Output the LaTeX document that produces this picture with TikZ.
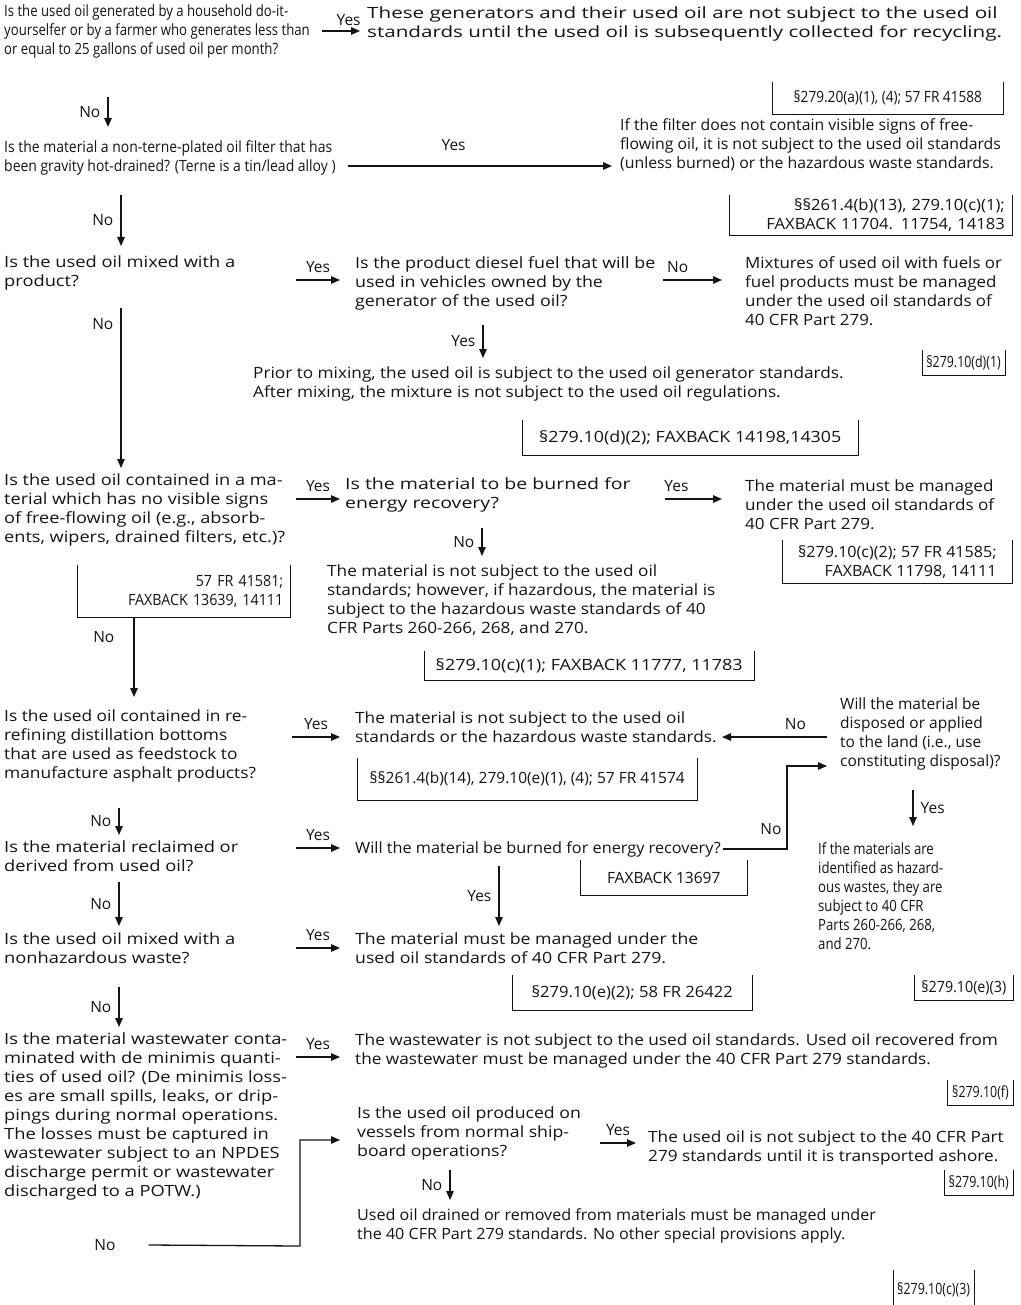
\documentclass[tikz,border=0pt]{standalone}
\usepackage{fontspec}
\setmainfont{Open Sans}
\usetikzlibrary{arrows.meta, positioning}
\definecolor{ink}{RGB}{20,20,20}
\newcommand{\fs}{\fontsize{15.5}{19}\selectfont}

\begin{document}
\begin{tikzpicture}[x=1pt, y=-1pt,
    sq/.style={font={\fs\addfontfeatures{FakeStretch=#1}}},
    txt/.style={anchor=north west, inner sep=0pt, align=left, sq=1.12, text=ink},
    cite/.style={inner xsep=7pt, inner ysep=0pt, font=\fs, text=ink},
    lbl/.style={inner sep=1pt, font=\fs, text=ink},
    arr/.style={draw=ink, line width=1.3pt, -{Triangle[length=9pt, width=7.5pt]}},
    brk/.style={draw=ink, line width=1pt}]
    \fill[white] (0,0) rectangle (1020,1305);
    \useasboundingbox (0,0) rectangle (1020,1305);

    % questions down the left side
    \node[txt, sq=0.85] (q1) at (4,5) {Is the used oil generated by a household do-it-\\yourselfer or by a farmer who generates less than\\or equal to 25 gallons of used oil per month?};
    \node[txt, sq=0.9] (q2) at (4,140) {Is the material a non-terne-plated oil filter that has\\been gravity hot-drained? (Terne is a tin/lead alloy )};
    \node[txt, sq=1.18] (q3) at (4,256) {Is the used oil mixed with a\\product?};
    \node[txt, sq=1.17] (q4) at (4,474) {Is the used oil contained in a ma-\\terial which has no visible signs\\of free-flowing oil (e.g., absorb-\\ents, wipers, drained filters, etc.)?};
    \node[txt, sq=1.12] (q5) at (4,710) {Is the used oil contained in re-\\refining distillation bottoms\\that are used as feedstock to\\manufacture asphalt products?};
    \node[txt, sq=1.18] (q6) at (4,841) {Is the material reclaimed or\\derived from used oil?};
    \node[txt, sq=1.18] (q7) at (4,933) {Is the used oil mixed with a\\nonhazardous waste?};
    \node[txt, sq=1.18] (q8) at (4,1033) {Is the material wastewater conta-\\minated with de minimis quanti-\\ties of used oil? (De minimis loss-\\es are small spills, leaks, or drip-\\pings during normal operations.\\The losses must be captured in\\wastewater subject to an NPDES\\discharge permit or wastewater\\discharged to a POTW.)};

    % second column
    \node[txt, sq=1.33] (a1) at (367,7) {These generators and their used oil are not subject to the used oil\\standards until the used oil is subsequently collected for recycling.};
    \node[txt, sq=1.02] (a2) at (620,118) {If the filter does not contain visible signs of free-\\flowing oil, it is not subject to the used oil standards\\(unless burned) or the hazardous waste standards.};
    \node[txt, sq=1.15] (q3b) at (355,256) {Is the product diesel fuel that will be\\used in vehicles owned by the\\generator of the used oil?};
    \node[txt, sq=1.09] (a3) at (745,256) {Mixtures of used oil with fuels or\\fuel products must be managed\\under the used oil standards of\\40 CFR Part 279.};
    \node[txt, sq=1.11] (a3b) at (253,367) {Prior to mixing, the used oil is subject to the used oil generator standards.\\After mixing, the mixture is not subject to the used oil regulations.};
    \node[txt, sq=1.26] (q4b) at (345,477) {Is the material to be burned for\\energy recovery?};
    \node[txt, sq=1.1] (a4) at (745,480) {The material must be managed\\under the used oil standards of\\40 CFR Part 279.};
    \node[txt, sq=1.11] (a4b) at (327,565) {The material is not subject to the used oil\\standards; however, if hazardous, the material is\\subject to the hazardous waste standards of 40\\CFR Parts 260-266, 268, and 270.};
    \node[txt, sq=1.11] (a5) at (355,712) {The material is not subject to the used oil\\standards or the hazardous waste standards.};
    \node[txt, sq=1.0] (q9) at (840,698) {Will the material be\\disposed or applied\\to the land (i.e., use\\constituting disposal)?};
    \node[txt, sq=0.85] (a9) at (818,842) {If the materials are\\identified as hazard-\\ous wastes, they are\\subject to 40 CFR\\Parts 260-266, 268,\\and 270.};
    \node[txt, sq=1.05] (q6b) at (355,841) {Will the material be burned for energy recovery?};
    \node[txt, sq=1.14] (a7) at (355,933) {The material must be managed under the\\used oil standards of 40 CFR Part 279.};
    \node[txt, sq=1.11] (a8) at (355,1033) {The wastewater is not subject to the used oil standards. Used oil recovered from\\the wastewater must be managed under the 40 CFR Part 279 standards.};
    \node[txt, sq=1.14] (q10) at (357,1107) {Is the used oil produced on\\vessels from normal ship-\\board operations?};
    \node[txt, sq=1.11] (a10) at (648,1131) {The used oil is not subject to the 40 CFR Part\\279 standards until it is transported ashore.};
    \node[txt, sq=1.04] (a10b) at (357,1208) {Used oil drained or removed from materials must be managed under\\the 40 CFR Part 279 standards. No other special provisions apply.};

    % citations
    \node[cite, sq=0.88, anchor=north east, minimum width=230, minimum height=32] (c1) at (1003,82) {§279.20(a)(1), (4); 57 FR 41588};
    \node[cite, sq=1.07, anchor=north east, text width=268, align=right, minimum height=40] (c2) at (1012,195) {§§261.4(b)(13), 279.10(c)(1);\\FAXBACK 11704. 11754, 14183};
    \node[cite, sq=0.8, inner xsep=4pt, anchor=north east, minimum width=78, minimum height=25] (c3) at (1005,350) {§279.10(d)(1)};
    \node[cite, sq=1.15, anchor=north west, minimum width=336, minimum height=35] (c3b) at (522,420) {§279.10(d)(2); FAXBACK 14198,14305};
    \node[cite, sq=1.04, anchor=north east, align=right, minimum width=229, minimum height=43] (c4) at (1012,540) {§279.10(c)(2); 57 FR 41585;\\FAXBACK 11798, 14111};
    \node[cite, sq=0.92, anchor=north west, text width=199, align=right, minimum height=52] (c4q) at (77,565) {57 FR 41581;\\FAXBACK 13639, 14111};
    \node[cite, sq=1.16, anchor=north west, minimum width=330, minimum height=29] (c4b) at (424,651) {§279.10(c)(1); FAXBACK 11777, 11783};
    \node[cite, sq=1.0, anchor=north west, minimum width=340, minimum height=42] (c5) at (357,758) {§§261.4(b)(14), 279.10(e)(1), (4); 57 FR 41574};
    \node[cite, anchor=north west, minimum width=167, minimum height=35] (c6) at (580,860) {FAXBACK 13697};
    \node[cite, sq=1.07, anchor=north west, minimum width=240, minimum height=35] (c7) at (512,975) {§279.10(e)(2); 58 FR 26422};
    \node[cite, sq=0.92, inner xsep=4pt, anchor=north east, minimum width=98, minimum height=25] (c9) at (1013,975) {§279.10(e)(3)};
    \node[cite, sq=0.8, inner xsep=4pt, anchor=north east, minimum width=56, minimum height=25] (c8) at (1013,1080) {§279.10(f)};
    \node[cite, sq=0.8, inner xsep=4pt, anchor=north east, minimum width=58, minimum height=25] (c10) at (1013,1170) {§279.10(h)};
    \node[cite, sq=0.8, inner xsep=4pt, anchor=north west, minimum width=77, minimum height=40] (c10b) at (893,1270) {§279.10(c)(3)};
    \foreach \c in {c1,c2,c3,c3b,c4,c4q,c4b,c5,c6,c7,c9,c8,c10}
        \draw[brk] (\c.north west) |- (\c.south east) -- (\c.north east);
    \draw[brk] (c10b.north west) -- (c10b.south west) (c10b.north east) -- (c10b.south east);

    % yes / no connectors
    \draw[arr] ([shift={(318,26)}]q1.north west) -- node[lbl, above=4pt, pos=0.7] (y1) {Yes} ([shift={(-7,24)}]a1.north west);
    \draw[arr] ([shift={(104,92)}]q1.north west) -- node[lbl, left=6pt] (n1) {No} ([shift={(104,-13)}]q2.north west);
    \draw[arr] ([shift={(344,26)}]q2.north west) -- node[lbl, above=14pt, pos=0.4] (y2) {Yes} ([shift={(-8,48)}]a2.north west);
    \draw[arr] ([shift={(117,55)}]q2.north west) -- node[lbl, left=6pt] (n2) {No} ([shift={(117,-10)}]q3.north west);
    \draw[arr] ([shift={(292,24)}]q3.north west) -- node[lbl, above=6pt] (y3) {Yes} ([shift={(-15,24)}]q3b.north west);
    \draw[arr] ([shift={(308,24)}]q3b.north west) -- node[lbl, above=6pt, pos=0.25] (n3) {No} ([shift={(-23,24)}]a3.north west);
    \draw[arr] ([shift={(128,69)}]q3b.north west) -- node[lbl, left=6pt] (y4) {Yes} ([shift={(230,-9)}]a3b.north west);
    \draw[arr] ([shift={(117,52)}]q3.north west) -- node[lbl, left=6pt, pos=0.1] (n4) {No} ([shift={(117,-6)}]q4.north west);
    \draw[arr] ([shift={(292,25)}]q4.north west) -- node[lbl, above=6pt] (y5) {Yes} ([shift={(-5,22)}]q4b.north west);
    \draw[arr] ([shift={(320,22)}]q4b.north west) -- node[lbl, above=6pt, pos=0.2] (y6) {Yes} ([shift={(-23,19)}]a4.north west);
    \draw[arr] ([shift={(137,51)}]q4b.north west) -- node[lbl, left=6pt] (n5) {No} ([shift={(155,-9)}]a4b.north west);
    \draw[arr] ([xshift=57]c4q.south west) -- node[lbl, left=18pt, pos=0.25] (n6) {No} ([shift={(130,-13)}]q5.north west);
    \draw[arr] ([shift={(288,27)}]q5.north west) -- node[lbl, above=6pt] (y7) {Yes} ([shift={(-15,25)}]a5.north west);
    \draw[arr] ([shift={(-13,39)}]q9.north west) -- node[lbl, above=6pt, pos=0.3] (n7) {No} ([shift={(367,25)}]a5.north west);
    \draw[arr] ([shift={(73,92)}]q9.north west) -- node[lbl, right=6pt] (y8) {Yes} ([shift={(95,-16)}]a9.north west);
    \draw[arr] ([shift={(115,98)}]q5.north west) -- node[lbl, left=6pt] (n8) {No} ([shift={(115,-6)}]q6.north west);
    \draw[arr] ([shift={(292,7)}]q6.north west) -- node[lbl, above=6pt] (y9) {Yes} ([shift={(-15,7)}]q6b.north west);
    \draw[arr] ([xshift=2]q6b.east) -| node[lbl, left=4pt, pos=0.62] (n9) {No} ([shift={(-53,68)}]q9.north west) -- ([shift={(-13,68)}]q9.north west);
    \draw[arr] ([shift={(144,25)}]q6b.north west) -- node[lbl, left=6pt] (y10) {Yes} ([shift={(144,-7)}]a7.north west);
    \draw[arr] ([shift={(115,41)}]q6.north west) -- node[lbl, left=6pt] (n10) {No} ([shift={(115,-7)}]q7.north west);
    \draw[arr] ([shift={(292,15)}]q7.north west) -- node[lbl, above=6pt] (y11) {Yes} ([shift={(-15,15)}]a7.north west);
    \draw[arr] ([shift={(115,54)}]q7.north west) -- node[lbl, left=6pt] (n11) {No} ([shift={(115,-6)}]q8.north west);
    \draw[arr] ([shift={(292,24)}]q8.north west) -- node[lbl, above=6pt] (y12) {Yes} ([shift={(-15,24)}]a8.north west);
    \node[lbl] (n12) at (105,1245) {No};
    \draw[arr] ([xshift=32]n12.east) -- ([shift={(-57,139)}]q10.north west) |- ([shift={(-17,33)}]q10.north west);
    \draw[arr] ([shift={(243,36)}]q10.north west) -- node[lbl, above=6pt] (y13) {Yes} ([shift={(-12,12)}]a10.north west);
    \draw[arr] ([shift={(93,63)}]q10.north west) -- node[lbl, left=6pt] (n13) {No} ([shift={(93,-8)}]a10b.north west);
\end{tikzpicture}
\end{document}
